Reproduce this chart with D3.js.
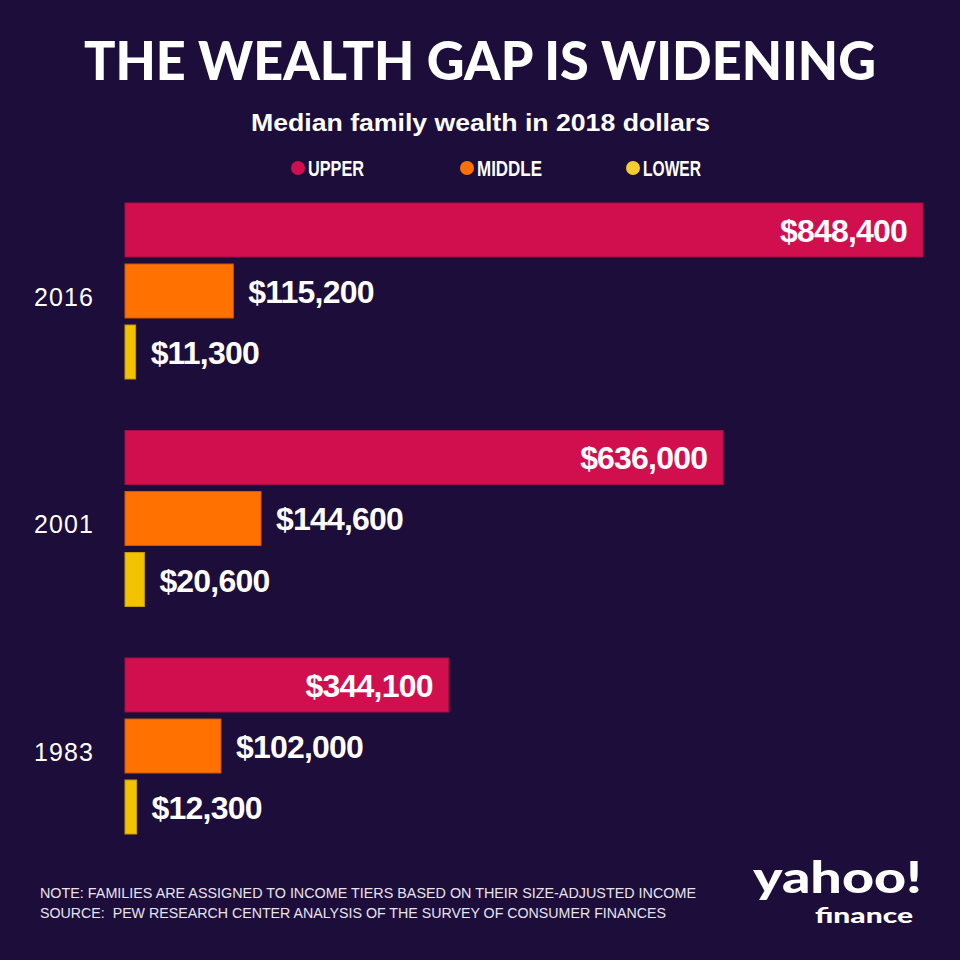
<!DOCTYPE html>
<html>
<head>
<meta charset="utf-8">
<script src="https://cdn.jsdelivr.net/npm/d3@7"></script>
<style>
  html, body { margin: 0; padding: 0; background: #1c0d3a; }
  svg { display: block; }
</style>
</head>
<body>
<svg id="chart" width="960" height="960"></svg>
<script>
// ---- Data ----
const years = ["2016", "2001", "1983"];
const tiers = ["UPPER", "MIDDLE", "LOWER"];
const upper = [848400, 636000, 344100];
const middle = [115200, 144600, 102000];
const lower = [11300, 20600, 12300];
const tierColors = ["#d10f4f", "#ff7100", "#f3c200"];
const legendColors = ["#d10f4f", "#ff7100", "#f6cd2f"];
const title = "THE WEALTH GAP IS WIDENING";
const subtitle = "Median family wealth in 2018 dollars";
const notes = [
  "NOTE: FAMILIES ARE ASSIGNED TO INCOME TIERS BASED ON THEIR SIZE-ADJUSTED INCOME",
  "SOURCE:  PEW RESEARCH CENTER ANALYSIS OF THE SURVEY OF CONSUMER FINANCES"
];

const seriesByTier = { UPPER: upper, MIDDLE: middle, LOWER: lower };
const rows = [];
years.forEach((yr, i) => {
  tiers.forEach((t, j) => rows.push({ year: yr, tier: t, value: seriesByTier[t][i], color: tierColors[j] }));
});

// ---- Layout ----
const svg = d3.select("#chart");
const W = 960, H = 960;
svg.append("rect").attr("width", W).attr("height", H).attr("fill", "#1c0d3a");

const x = d3.scaleLinear().domain([0, 848400]).range([125, 923]);
const yGroup = d3.scaleBand().domain(years).range([203, 834]).paddingInner(0.2264).paddingOuter(0);
const yTier = d3.scaleBand().domain(tiers).range([0, yGroup.bandwidth()]).paddingInner(0.115).paddingOuter(0);

// Title
svg.append("text")
  .attr("x", 84).attr("y", 80)
  .attr("textLength", 792).attr("lengthAdjust", "spacingAndGlyphs")
  .attr("fill", "#ffffff")
  .style("font-family", "Lato, 'Open Sans', sans-serif")
  .style("font-weight", 900)
  .style("font-size", "53px")
  .text(title);

// Subtitle
svg.append("text")
  .attr("x", 251).attr("y", 131)
  .attr("textLength", 459).attr("lengthAdjust", "spacingAndGlyphs")
  .attr("fill", "#ffffff")
  .style("font-family", "'Liberation Sans', Arial, sans-serif")
  .style("font-weight", 700)
  .style("font-size", "24px")
  .text(subtitle);

// Legend
const legendX = [298, 467, 633];
const legendW = [56, 65, 58];
const lg = svg.append("g").selectAll("g").data(tiers).join("g");
lg.append("circle")
  .attr("cx", (d, i) => legendX[i]).attr("cy", 168).attr("r", 7)
  .attr("fill", (d, i) => legendColors[i]);
lg.append("text")
  .attr("x", (d, i) => legendX[i] + 10).attr("y", 176)
  .attr("textLength", (d, i) => legendW[i]).attr("lengthAdjust", "spacingAndGlyphs")
  .attr("fill", "#ffffff")
  .style("font-family", "'Liberation Sans', Arial, sans-serif")
  .style("font-weight", 700)
  .style("font-size", "22px")
  .text(d => d);

// Bars
const groups = svg.append("g").selectAll("g").data(years).join("g")
  .attr("transform", d => `translate(0,${yGroup(d)})`);

groups.append("text")
  .attr("x", 34)
  .attr("y", yTier("MIDDLE") + yTier.bandwidth() / 2 + 15)
  .attr("textLength", 59).attr("lengthAdjust", "spacing")
  .attr("fill", "#ffffff")
  .style("font-family", "'Liberation Sans', Arial, sans-serif")
  .style("font-weight", 400)
  .style("font-size", "25px")
  .text(d => d);

groups.each(function(yr) {
  const g = d3.select(this);
  const data = rows.filter(r => r.year === yr);
  g.selectAll("rect").data(data).join("rect")
    .attr("x", x(0))
    .attr("y", d => yTier(d.tier))
    .attr("width", d => x(d.value) - x(0))
    .attr("height", yTier.bandwidth())
    .attr("fill", d => d.color)
    .attr("stroke", d => d3.color(d.color).darker(0.6))
    .attr("stroke-width", 1);
  g.selectAll("text.val").data(data).join("text")
    .attr("class", "val")
    .attr("x", d => d.tier === "UPPER" ? x(d.value) - 16 : x(d.value) + 15)
    .attr("y", d => yTier(d.tier) + yTier.bandwidth() / 2 + 12)
    .attr("text-anchor", d => d.tier === "UPPER" ? "end" : "start")
    .attr("fill", "#ffffff")
    .style("font-family", "'Liberation Sans', Arial, sans-serif")
    .style("font-weight", 700)
    .style("font-size", "32px")
    .style("letter-spacing", "-0.8px")
    .text(d => "$" + d3.format(",")(d.value));
});

// Notes
const noteW = [656, 626];
svg.append("g").selectAll("text").data(notes).join("text")
  .attr("x", 40).attr("y", (d, i) => 898 + i * 19.5)
  .attr("textLength", (d, i) => noteW[i]).attr("lengthAdjust", "spacingAndGlyphs")
  .attr("fill", "#e8e4ee")
  .style("font-family", "'Liberation Sans', Arial, sans-serif")
  .style("font-size", "15px")
  .style("white-space", "pre")
  .text(d => d);

// Logo
svg.append("text")
  .attr("x", 753).attr("y", 893)
  .attr("textLength", 169).attr("lengthAdjust", "spacingAndGlyphs")
  .attr("fill", "#ffffff")
  .style("font-family", "Lato, 'Open Sans', sans-serif")
  .style("font-weight", 900)
  .style("font-size", "44px")
  .text("yahoo!");
svg.append("text")
  .attr("x", 815).attr("y", 923)
  .attr("textLength", 98).attr("lengthAdjust", "spacingAndGlyphs")
  .attr("fill", "#ffffff")
  .style("font-family", "Lato, 'Open Sans', sans-serif")
  .style("font-weight", 900)
  .style("font-size", "21px")
  .text("finance");
</script>
</body>
</html>
